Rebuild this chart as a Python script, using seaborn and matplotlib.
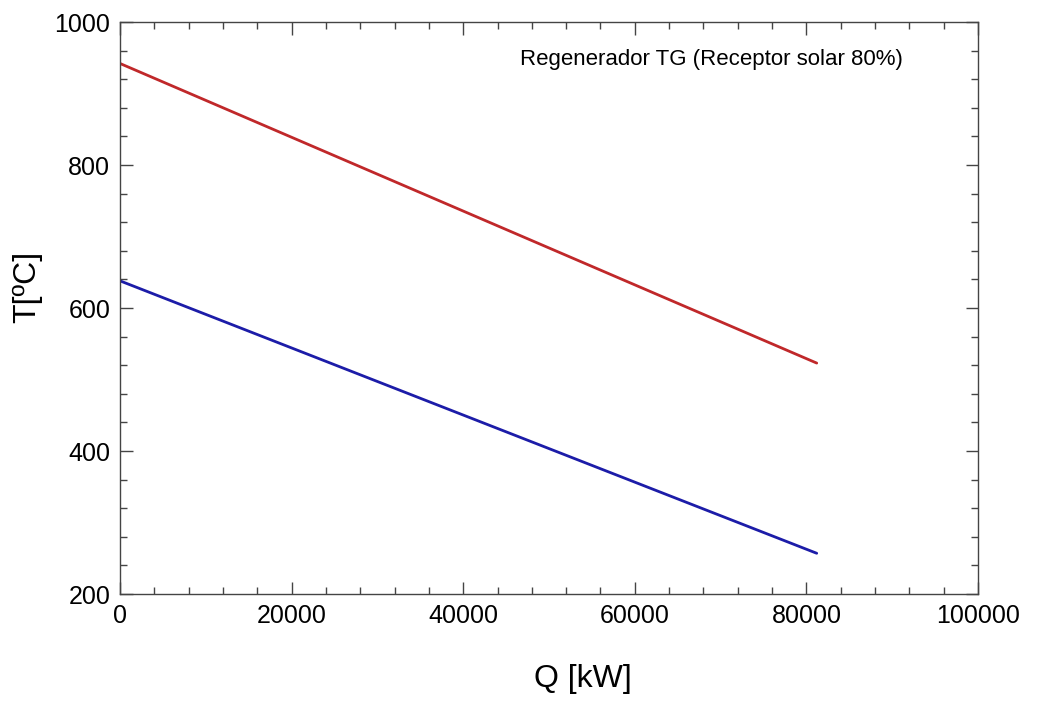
import numpy as np
import pandas as pd
import matplotlib.pyplot as plt
from matplotlib.ticker import MultipleLocator
import seaborn as sns

# Data
q_kw = [0, 81200]
t_hot = [942, 523]     # gas side (red)
t_cold = [638, 257]    # air side (blue)

df = pd.DataFrame({
    "Q": q_kw * 2,
    "T": t_hot + t_cold,
    "serie": ["caliente"] * len(q_kw) + ["fria"] * len(q_kw),
})

sns.set_theme(style="ticks")
plt.rcParams['font.family'] = ['Liberation Sans', 'DejaVu Sans']
plt.rcParams['text.color'] = 'black'
plt.rcParams['axes.labelcolor'] = 'black'
plt.rcParams['xtick.labelcolor'] = 'black'
plt.rcParams['ytick.labelcolor'] = 'black'

fig = plt.figure(figsize=(10.4, 7.01), dpi=100)
ax = fig.add_axes([0.1154, 0.1526, 0.8250, 0.8160])

sns.lineplot(data=df, x="Q", y="T", hue="serie",
             palette={"caliente": "#c0282a", "fria": "#1c1ca8"},
             linewidth=2, legend=False, ax=ax)

ax.set_xlim(0, 100000)
ax.set_ylim(200, 1000)
ax.xaxis.set_major_locator(MultipleLocator(20000))
ax.xaxis.set_minor_locator(MultipleLocator(4000))
ax.yaxis.set_major_locator(MultipleLocator(200))
ax.yaxis.set_minor_locator(MultipleLocator(40))

ax.tick_params(which="both", direction="in", top=True, right=True,
               color="#444444", width=1)
ax.tick_params(which="major", length=9, labelsize=18, pad=7)
ax.tick_params(which="minor", length=5)
for s in ax.spines.values():
    s.set_color("#444444")
    s.set_linewidth(1)

ax.set_xlabel("Q [kW]", fontsize=23)
ax.set_ylabel("T[ºC]", fontsize=23)
ax.xaxis.set_label_coords(0.54, -0.122)
ax.yaxis.set_label_coords(-0.091, 0.537)

ax.text(0.913, 0.935, "Regenerador TG (Receptor solar 80%)",
        transform=ax.transAxes, ha="right", va="center", fontsize=16)

fig.savefig("out.png", dpi=100)
